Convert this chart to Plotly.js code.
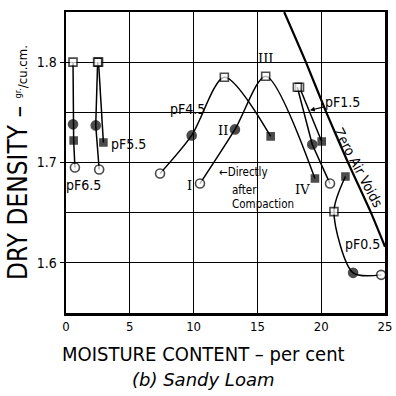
<!DOCTYPE html>
<html><head><meta charset="utf-8">
<script src="https://cdn.plot.ly/plotly-3.0.1.min.js"></script>
<style>html,body{margin:0;padding:0;background:#fff}#chart{width:396px;height:396px}</style>
</head><body><div id="chart"></div>
<script>
// ---- data (moisture %, dry density g/cu.cm) ----
// point kinds: 'openSquare', 'filledSquare', 'filledCircle', 'openCircle'
const pf65X = [0.55, 0.55, 0.6, 0.7];
const pf65Y = [1.800, 1.738, 1.722, 1.695];
const pf65K = ['openSquare', 'filledCircle', 'filledSquare', 'openCircle'];

const pf55aX = [2.48, 2.33, 2.6];
const pf55aY = [1.800, 1.737, 1.693];
const pf55aK = ['openSquare', 'filledCircle', 'openCircle'];

const pf55bX = [2.55, 2.93];
const pf55bY = [1.800, 1.720];
const pf55bK = ['openSquare', 'filledSquare'];

const pf45X = [7.37, 9.85, 12.41, 16.04];
const pf45Y = [1.689, 1.727, 1.785, 1.726];
const pf45K = ['openCircle', 'filledCircle', 'openSquare', 'filledSquare'];

const compX = [10.5, 13.24, 15.65, 19.51];
const compY = [1.679, 1.733, 1.786, 1.684];
const compK = ['openCircle', 'filledCircle', 'openSquare', 'filledSquare'];

const pf15aX = [18.13, 19.3, 20.69];
const pf15aY = [1.775, 1.718, 1.679];
const pf15aK = ['openSquare', 'filledCircle', 'openCircle'];

const pf15bX = [18.3, 20.04];
const pf15bY = [1.775, 1.721];
const pf15bK = ['openSquare', 'filledSquare'];

const pf05X = [21.9, 21.0, 22.5, 24.7];
const pf05Y = [1.686, 1.651, 1.590, 1.588];
const pf05K = ['filledSquare', 'openSquare', 'filledCircle', 'openCircle'];

const zavX = [17.1, 18.8, 20.4, 22.1, 23.9, 25.0];
const zavY = [1.850, 1.800, 1.750, 1.700, 1.650, 1.616];

const xTickVals = [0, 5, 10, 15, 20, 25];
const xTickText = ['0', '5', '10', '15', '20', '25'];
const yTickVals = [1.6, 1.7, 1.8];
const yTickText = ['1.6', '1.7', '1.8'];

// ---- styling ----
const FONT = 'DejaVu Sans Condensed, DejaVu Sans, sans-serif';
const symMap = {openSquare: 'square', filledSquare: 'square', filledCircle: 'circle', openCircle: 'circle'};
const colMap = {openSquare: '#fff', filledSquare: '#000', filledCircle: '#000', openCircle: '#fff'};
const sizeMap = {openSquare: 8, filledSquare: 7, filledCircle: 9, openCircle: 9};

function curve(x, y, k, shape) {
  return {
    x: x, y: y, type: 'scatter', mode: 'lines+markers', showlegend: false, hoverinfo: 'skip',
    line: {color: '#000', width: 1.5, shape: shape, smoothing: 0.8},
    marker: {
      symbol: k.map(s => symMap[s]), color: k.map(s => colMap[s]), size: k.map(s => sizeMap[s]),
      line: {color: '#000', width: 1.6}
    }
  };
}

const traces = [
  {x: zavX, y: zavY, type: 'scatter', mode: 'lines', showlegend: false, hoverinfo: 'skip',
   line: {color: '#000', width: 2.2, shape: 'spline', smoothing: 0.6}},
  curve(pf65X, pf65Y, pf65K, 'linear'),
  curve(pf55bX, pf55bY, pf55bK, 'linear'),
  curve(pf55aX, pf55aY, pf55aK, 'linear'),
  curve(pf45X, pf45Y, pf45K, 'spline'),
  curve(compX, compY, compK, 'spline'),
  curve(pf15bX, pf15bY, pf15bK, 'linear'),
  curve(pf15aX, pf15aY, pf15aK, 'linear'),
  curve(pf05X, pf05Y, pf05K, 'spline')
];

const lab = (text, x, y, extra) => Object.assign({
  text: text, x: x, y: y, xref: 'x', yref: 'y', showarrow: false,
  font: {family: FONT, size: 14, color: '#000'}
}, extra || {});
const roman = (text, x, y) => lab(text, x, y, {font: {family: 'DejaVu Serif, serif', size: 13, color: '#000'}});
const small = {family: FONT, size: 11.5, color: '#000'};

const annotations = [
  lab('pF6.5', 1.4, 1.678),
  lab('pF5.5', 4.9, 1.718),
  lab('pF4.5', 9.5, 1.753),
  roman('II', 12.3, 1.732),
  roman('III', 15.6, 1.804),
  roman('I', 9.64, 1.677),
  roman('IV', 18.5, 1.673),
  lab('←Directly', 11.8, 1.691, {xanchor: 'left', font: small}),
  lab('after', 12.85, 1.673, {xanchor: 'left', font: small}),
  lab('Compaction', 12.85, 1.659, {xanchor: 'left', font: small}),
  lab('pF1.5', 19.12, 1.752, {showarrow: true, ax: 33, ay: -8, arrowhead: 2, arrowsize: 0.8, arrowwidth: 1.2, arrowcolor: '#000'}),
  lab('Zero Air Voids', 22.96, 1.695, {textangle: 62}),
  lab('pF0.5', 23.2, 1.619),
  {text: 'MOISTURE CONTENT – per cent', xref: 'paper', yref: 'paper', x: 0.43, y: -0.135, yanchor: 'middle',
   showarrow: false, font: {family: FONT, size: 20, color: '#000'}},
  {text: '<i>(b) Sandy Loam</i>', xref: 'paper', yref: 'paper', x: 0.43, y: -0.22, yanchor: 'middle',
   showarrow: false, font: {family: 'DejaVu Sans, sans-serif', size: 18, color: '#000'}}
];

const layout = {
  width: 396, height: 396,
  margin: {l: 66, r: 11, t: 12, b: 83},
  paper_bgcolor: '#fff', plot_bgcolor: '#fff',
  showlegend: false,
  xaxis: {
    range: [0, 25], tickvals: xTickVals, ticktext: xTickText,
    showgrid: true, gridcolor: '#000', gridwidth: 1.2, zeroline: false,
    showline: true, linecolor: '#000', linewidth: 2.5, mirror: true,
    ticks: '', tickfont: {family: FONT, size: 13, color: '#000'}
  },
  yaxis: {
    range: [1.55, 1.85], tickvals: yTickVals, ticktext: yTickText,
    showgrid: true, gridcolor: '#000', gridwidth: 1.2, zeroline: false,
    showline: true, linecolor: '#000', linewidth: 2.5, mirror: true,
    ticks: 'outside', ticklen: 4, tickcolor: '#000', tickwidth: 1.2,
    minor: {tick0: 1.55, dtick: 0.1, showgrid: true, gridcolor: '#000', gridwidth: 1.2, ticks: ''},
    tickfont: {family: FONT, size: 14, color: '#000'},
    title: {text: "DRY DENSITY – <span style='font-size:13px'><sup>gr.</sup>/cu.cm.</span>", standoff: 2,
            font: {family: FONT, size: 26, color: '#000'}}
  },
  annotations: annotations
};

Plotly.newPlot('chart', traces, layout, {staticPlot: true, displayModeBar: false});
</script>
</body></html>
